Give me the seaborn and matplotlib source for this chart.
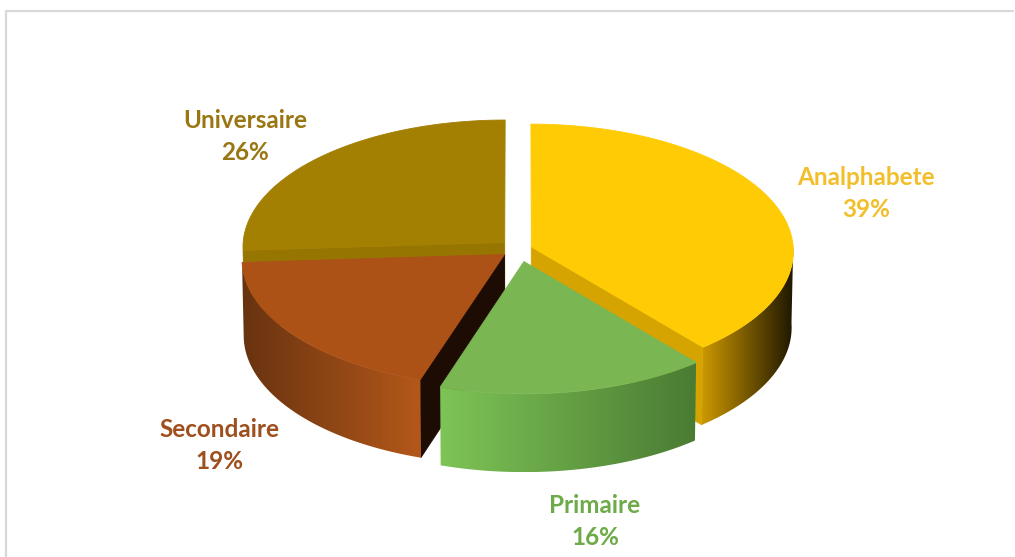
import numpy as np
import matplotlib
matplotlib.use("Agg")
import matplotlib.pyplot as plt
from matplotlib.patches import Polygon
from matplotlib.lines import Line2D
import seaborn as sns

# --- data -------------------------------------------------------------
categories = ["Analphabete", "Primaire", "Secondaire", "Universaire"]
shares = [39, 16, 19, 26]

top_colors = ["#FFCB05", "#7AB752", "#AD5217", "#A37F02"]
side_left = ["#CC9800", "#7EC456", "#683310", "#8C6C00"]
side_right = ["#1E1600", "#4A7B33", "#B4581A", "#8C6C00"]
cut_colors = ["#D6A400", "#5E9140", "#1C0C04", "#977501"]
label_colors = ["#F2BE2A", "#6DAA48", "#9E4F1E", "#9A7612"]
explode = [0.05, 0.10, 0.07, 0.075]

# label anchor (centre x, baseline of first line) in pixels
label_anchor = [(866, 185), (595, 513), (219, 437), (245, 128)]

# --- projection of the 3-D pie ---------------------------------------
W, H = 1015, 557
S = 262.0            # pixels per unit radius
PHI = np.radians(29)  # elevation of the viewpoint
DIST = 26.0          # perspective distance (in radii)
CX, CY = 519.0, 249.0
THICK = 0.335


def proj(x, y, z):
    v = y * np.sin(PHI) + z * np.cos(PHI)
    w = y * np.cos(PHI) - z * np.sin(PHI)
    k = DIST / (DIST + w)
    return CX + S * x * k, CY - S * v * k


sns.set_theme(style="white")
plt.rcParams["font.family"] = ["Lato", "DejaVu Sans"]

fig = plt.figure(figsize=(W / 100, H / 100), dpi=100, facecolor="white",
                 edgecolor="white", linewidth=0)
ax = fig.add_axes([0, 0, 1, 1])
ax.set_xlim(0, W)
ax.set_ylim(H, 0)
ax.set_axis_off()

# light frame of the chart area (left and top edges only)
ax.add_line(Line2D([6, 6], [H + 5, 11], color="#D9D9D9", lw=1.6, zorder=0))
ax.add_line(Line2D([6, W - 1.5], [11, 11], color="#D9D9D9", lw=1.6, zorder=0))

# slice angles: start at 12 o'clock, run clockwise
fracs = np.array(shares, dtype=float) / sum(shares)
ends = np.radians(90) - np.cumsum(fracs) * 2 * np.pi
starts = np.concatenate([[np.radians(90)], ends[:-1]])


def face(points, color, z):
    p = Polygon(np.array(points), closed=True, facecolor=color,
                edgecolor=color, lw=0.6, zorder=z, antialiased=True)
    ax.add_patch(p)
    return p


def gradient_face(points, c_left, c_right, z):
    pts = np.array(points)
    clip = Polygon(pts, closed=True, facecolor="none", edgecolor="none",
                   zorder=z)
    ax.add_patch(clip)
    cmap = sns.blend_palette([c_left, c_right], as_cmap=True)
    grad = np.linspace(0, 1, 256)[None, :]
    x0, x1 = pts[:, 0].min(), pts[:, 0].max()
    y0, y1 = pts[:, 1].min(), pts[:, 1].max()
    im = ax.imshow(grad, cmap=cmap, extent=(x0, x1, y1, y0), aspect="auto",
                   interpolation="bilinear", zorder=z)
    im.set_clip_path(clip)


# draw back slices first
order = sorted(range(len(shares)),
               key=lambda i: -np.sin((starts[i] + ends[i]) / 2))

for rank, i in enumerate(order):
    t1, t2 = ends[i], starts[i]          # counter-clockwise from t1 to t2
    mid = (t1 + t2) / 2
    ox, oy = explode[i] * np.cos(mid), explode[i] * np.sin(mid)
    zb = 10 + rank * 10

    # radial cut faces facing the viewer
    for t, visible in ((t1, np.cos(t1) > 1e-6), (t2, np.cos(t2) < -1e-6)):
        if visible:
            rx, ry = ox + np.cos(t), oy + np.sin(t)
            pts = [proj(ox, oy, 0), proj(rx, ry, 0),
                   proj(rx, ry, -THICK), proj(ox, oy, -THICK)]
            face(pts, cut_colors[i], zb)

    # outer wall (front half only)
    th = np.linspace(t1, t2, 400)
    front = th[np.sin(th) <= 0]
    if front.size > 1:
        top_arc = [proj(ox + np.cos(a), oy + np.sin(a), 0) for a in front]
        bot_arc = [proj(ox + np.cos(a), oy + np.sin(a), -THICK)
                   for a in front[::-1]]
        gradient_face(top_arc + bot_arc, side_left[i], side_right[i], zb + 1)

    # top surface
    arc = [proj(ox + np.cos(a), oy + np.sin(a), 0) for a in th]
    face([proj(ox, oy, 0)] + arc, top_colors[i], zb + 2)

# data labels
for i, name in enumerate(categories):
    x, y = label_anchor[i]
    for k, txt in enumerate((name, f"{shares[i]}%")):
        ax.text(x, y + 32 * k, txt, ha="center", va="baseline",
                fontsize=17.5, fontweight="bold", color=label_colors[i],
                zorder=100)

ax.set_xlim(0, W)
ax.set_ylim(H, 0)
fig.savefig("out.png", dpi=100, facecolor="white")
